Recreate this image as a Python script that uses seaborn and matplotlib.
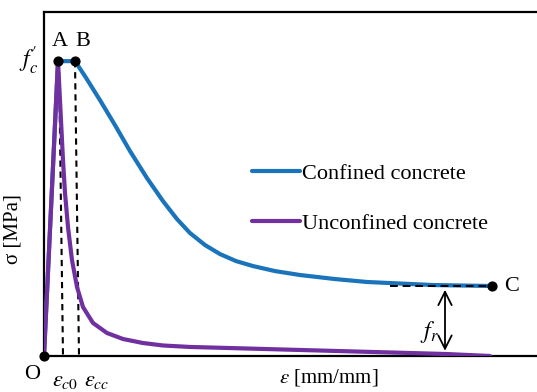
import numpy as np
import pandas as pd
import matplotlib
matplotlib.use("Agg")
import matplotlib.pyplot as plt
from matplotlib.lines import Line2D
import seaborn as sns

# Stress-strain data (strain in mm/mm, stress in MPa)
unconf_strain = [0.0, 0.0014, 0.0019, 0.0021, 0.0024, 0.0028, 0.0033, 0.0039,
                 0.0049, 0.0063, 0.0079, 0.0099, 0.0119, 0.0146, 0.0186, 0.0403, 0.0446]
unconf_stress = [0.0, 30.0, 19.93, 16.58, 13.12, 9.76, 7.02, 4.98,
                 3.36, 2.34, 1.73, 1.32, 1.07, 0.92, 0.81, 0.20, 0.0]

conf_strain = [0.0, 0.0014, 0.0031, 0.0041, 0.0056, 0.0071, 0.0086, 0.0103,
               0.0119, 0.0133, 0.0146, 0.0161, 0.0176, 0.0192, 0.0209, 0.0231,
               0.0256, 0.0291, 0.0323, 0.0389, 0.0448]
conf_stress = [0.0, 30.0, 30.0, 28.47, 26.03, 23.49, 20.85, 18.10,
               15.76, 13.93, 12.51, 11.29, 10.37, 9.66, 9.15, 8.64,
               8.24, 7.83, 7.53, 7.22, 7.12]

fc = 30.0          # peak stress f'c
fr = 7.12          # residual stress
eps_A = 0.0014     # strain at A
eps_B = 0.0031     # strain at B
eps_C = 0.0448     # strain at C

series_names = ["Confined concrete", "Unconfined concrete"]
series_colors = ["#1a74bb", "#7030a0"]

df = pd.concat([
    pd.DataFrame({"strain": conf_strain, "stress": conf_stress, "type": series_names[0]}),
    pd.DataFrame({"strain": unconf_strain, "stress": unconf_stress, "type": series_names[1]}),
])

sns.set_theme(style="white")
plt.rcParams["font.family"] = ["Liberation Serif", "DejaVu Serif"]
plt.rcParams["mathtext.fontset"] = "stix"
plt.rcParams["text.color"] = "black"

fig = plt.figure(figsize=(5.37, 3.92), dpi=100)
ax = fig.add_axes([44 / 537, 36 / 392, 1 - 44 / 537, (356 - 12) / 392])

sns.lineplot(data=df, x="strain", y="stress", hue="type", hue_order=series_names,
             palette=series_colors, sort=False, estimator=None, linewidth=3.0,
             ax=ax, legend=False, zorder=3)
for ln in ax.get_lines():
    ln.set_solid_joinstyle("round")
    ln.set_solid_capstyle("round")

ax.set_xlim(0, 0.0493)
ax.set_ylim(0, 35)
ax.set_xticks([])
ax.set_yticks([])
ax.set_xlabel("")
ax.set_ylabel("")
for side in ["left", "bottom", "top"]:
    ax.spines[side].set_color("black")
    ax.spines[side].set_linewidth(1.6)
ax.spines["right"].set_visible(False)

# Dashed guides for the peak strains
ax.plot([0.0015, 0.0019], [fc, 0], ls=(0, (3, 2.3)), color="black", lw=1.5, zorder=2)
ax.plot([0.0031, 0.0035], [fc, 0], ls=(0, (3, 2.3)), color="black", lw=1.5, zorder=2)
# Residual stress guide
ax.plot([0.0346, eps_C], [fr, fr], ls=(0, (4, 2.5)), color="black", lw=1.4, zorder=4)

# Key points
ax.scatter([0, eps_A, eps_B, eps_C], [0, fc, fc, fr], s=40, color="black",
           zorder=6, clip_on=False)

# Residual stress arrow
ax.annotate("", xy=(0.0401, 0.25), xytext=(0.0401, fr - 0.1),
            arrowprops=dict(arrowstyle="<->", color="black", lw=1.3,
                            mutation_scale=24), zorder=5)

txt = dict(color="black", fontsize=16, clip_on=False)
ax.text(-0.0015, fc, r"$f_c'$", ha="center", va="center", color="black",
        fontsize=17, clip_on=False)
ax.text(0.0016, 32.0, "A", ha="center", va="center", **txt)
ax.text(0.0039, 32.0, "B", ha="center", va="center", **txt)
ax.text(0.0468, fr, "C", ha="center", va="center", **txt)
ax.text(-0.0012, -1.9, "O", ha="center", va="center", **txt)
ax.text(0.0021, -2.6, r"$\varepsilon_{c0}$", ha="center", va="center", **txt)
ax.text(0.0053, -2.6, r"$\varepsilon_{cc}$", ha="center", va="center", **txt)
ax.text(0.0385, 2.4, r"$f_r$", ha="center", va="center", color="black",
        fontsize=17, clip_on=False)

ax.text(0.0285, -2.2, r"$\varepsilon$ [mm/mm]", ha="center", va="center",
        fontsize=15, color="black", clip_on=False)
ax.text(-0.0031, 12.9, "σ [MPa]", ha="center", va="center", rotation=90,
        fontsize=15, color="black", clip_on=False)

# Legend
handles = [Line2D([], [], color=c, lw=3.0) for c in series_colors]
fig.legend(handles, series_names, loc="upper left",
           bbox_to_anchor=(252 / 537, 1 - 163 / 392), frameon=False,
           fontsize=16, handlelength=2.15, handletextpad=0.1,
           labelspacing=1.35, borderpad=0, borderaxespad=0)

fig.savefig("out.png", dpi=100, facecolor="white")
